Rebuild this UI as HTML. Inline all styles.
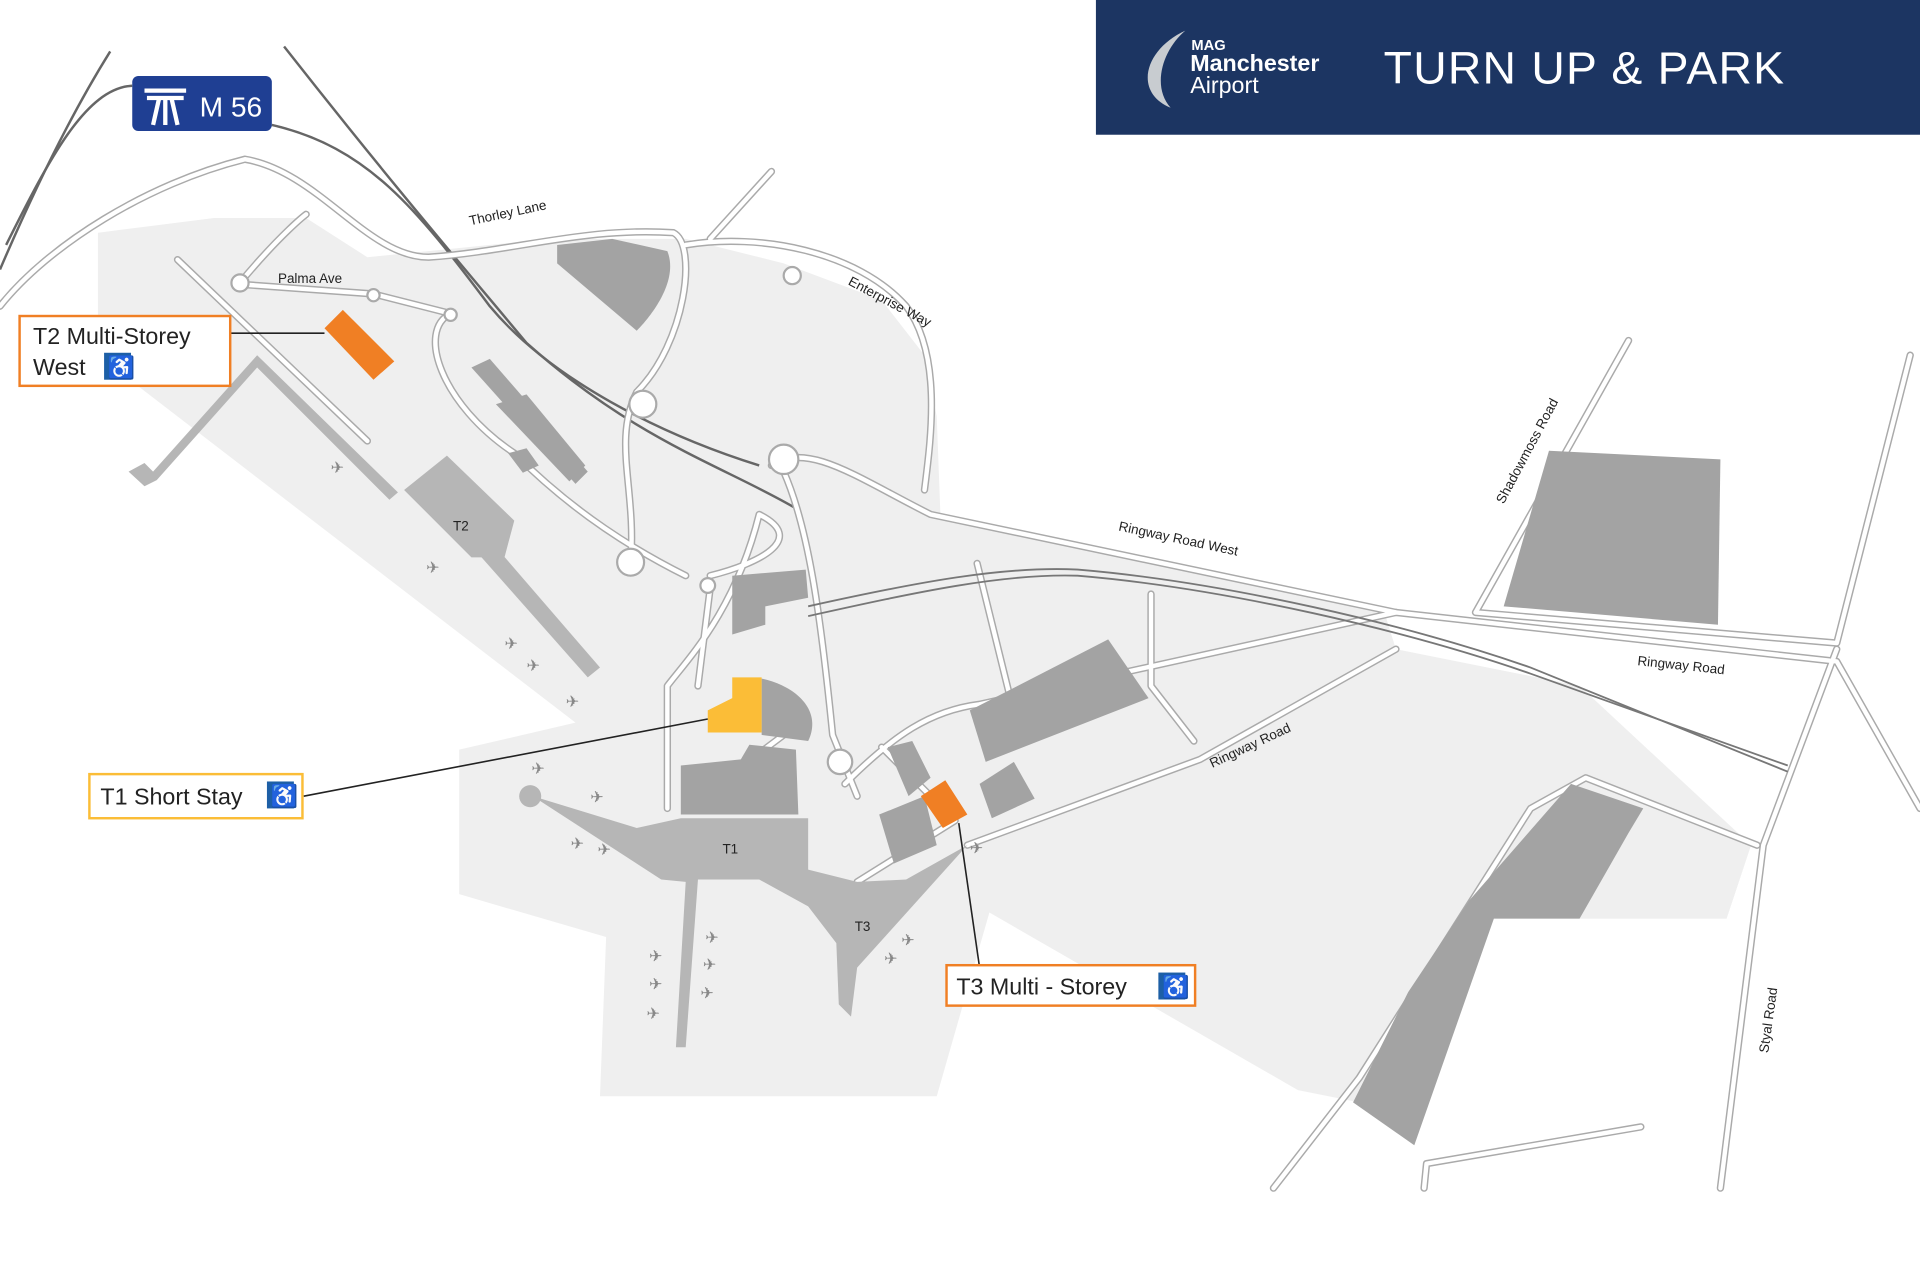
<!DOCTYPE html>
<html><head><meta charset="utf-8"><style>
html,body{margin:0;padding:0;background:#fff;}
svg{display:block}
text{font-family:"Liberation Sans",Arial,sans-serif}
</style></head><body>
<svg width="1920" height="1280" viewBox="0 0 1568 1045" preserveAspectRatio="none" xmlns="http://www.w3.org/2000/svg">
<rect width="1568" height="1045" fill="#fff"/>
<path d="M80,190 L175,178 L250,178 L300,210 L450,195 L560,195 L640,215 L720,245 L755,290 L765,340 L768,420 L1130,498 L1140,530 L1290,560 L1430,690 L1410,750 L1200,750 L1110,900 L1060,890 L808,745 L765,895 L490,895 L495,765 L375,730 L375,612 L470,590 L80,290 Z" fill="#efefef"/>
<path d="M1110,640 L1300,630 L1430,690 L1410,750 L1300,750 L1200,750 Z" fill="#efefef"/>
<g fill="none" stroke="#666" stroke-width="2">
<path d="M90,42 C60,90 30,150 0,220"/>
<path d="M232,38 C320,150 380,220 430,280 C520,360 590,380 650,415"/>
<path d="M222,102 C300,120 340,170 400,250 C450,310 540,355 620,380"/>
<path d="M108,70 C70,72 40,130 5,200"/>
</g>
<g fill="none" stroke-linecap="round" stroke-linejoin="round">
<g stroke="#aaa" stroke-width="6">
<path d="M0,250 C40,200 120,150 200,130 C260,140 300,210 350,210 C420,205 480,185 550,190 C570,200 560,280 520,320 C500,360 520,400 515,460"/>
<path d="M560,200 C620,190 700,205 740,250 C770,290 760,360 755,400"/>
<path d="M580,195 L630,140"/>
<path d="M630,380 C660,360 700,390 760,420 L1140,500 L1500,540 L1568,660"/>
<path d="M1330,278 L1205,500 L1500,525 L1560,290"/>
<path d="M1500,530 L1440,690 L1405,970"/>
<path d="M1040,970 L1110,880 L1250,660 L1295,635 L1435,690"/>
<path d="M1163,970 L1165,950 L1340,920"/>
<path d="M195,232 L305,240 L368,256 C340,270 360,330 420,370 C470,420 520,450 560,470"/>
<path d="M145,212 L300,360"/>
<path d="M195,232 C230,190 250,175 250,175"/>
<path d="M640,385 C660,430 670,500 680,600 L700,650"/>
<path d="M580,470 C620,460 660,440 620,420 C600,500 560,540 545,560 L545,660"/>
<path d="M580,480 L570,560"/>
<path d="M690,640 C730,600 760,580 800,575 L1140,500"/>
<path d="M790,690 L980,620 L1140,530"/>
<path d="M798,460 L830,590"/>
<path d="M940,485 L940,560 L975,605"/>
<path d="M720,610 L780,670 L700,720"/>
<path d="M640,600 L600,630"/>
</g>
<g stroke="#fff" stroke-width="3.6">
<path d="M0,250 C40,200 120,150 200,130 C260,140 300,210 350,210 C420,205 480,185 550,190 C570,200 560,280 520,320 C500,360 520,400 515,460"/>
<path d="M560,200 C620,190 700,205 740,250 C770,290 760,360 755,400"/>
<path d="M580,195 L630,140"/>
<path d="M630,380 C660,360 700,390 760,420 L1140,500 L1500,540 L1568,660"/>
<path d="M1330,278 L1205,500 L1500,525 L1560,290"/>
<path d="M1500,530 L1440,690 L1405,970"/>
<path d="M1040,970 L1110,880 L1250,660 L1295,635 L1435,690"/>
<path d="M1163,970 L1165,950 L1340,920"/>
<path d="M195,232 L305,240 L368,256 C340,270 360,330 420,370 C470,420 520,450 560,470"/>
<path d="M145,212 L300,360"/>
<path d="M195,232 C230,190 250,175 250,175"/>
<path d="M640,385 C660,430 670,500 680,600 L700,650"/>
<path d="M580,470 C620,460 660,440 620,420 C600,500 560,540 545,560 L545,660"/>
<path d="M580,480 L570,560"/>
<path d="M690,640 C730,600 760,580 800,575 L1140,500"/>
<path d="M790,690 L980,620 L1140,530"/>
<path d="M798,460 L830,590"/>
<path d="M940,485 L940,560 L975,605"/>
<path d="M720,610 L780,670 L700,720"/>
<path d="M640,600 L600,630"/>
</g>
</g>
<g fill="none" stroke="#777" stroke-width="1.5">
<path d="M660,495 C750,475 820,462 880,465 C1000,475 1150,510 1250,545 L1460,630"/>
<path d="M660,503 C750,483 820,468 880,470 C1000,480 1150,515 1250,550 L1460,625"/>
</g>
<g fill="#fff" stroke="#aaa" stroke-width="1.8">
<circle cx="196" cy="231" r="7"/><circle cx="305" cy="241" r="5"/><circle cx="368" cy="257" r="5"/>
<circle cx="647" cy="225" r="7"/><circle cx="515" cy="459" r="11"/><circle cx="578" cy="478" r="6"/>
<circle cx="640" cy="375" r="12"/><circle cx="525" cy="330" r="11"/><circle cx="686" cy="622" r="10"/>
</g>
<g fill="#a3a3a3">
<path d="M455,200 L500,195 L545,205 C555,230 530,260 520,270 L455,215 Z"/>
<path d="M1265,368 L1405,375 L1403,510 L1228,495 Z"/>
<path d="M1283,640 L1342,660 L1330,680 L1290,750 L1220,750 L1155,935 L1105,900 L1150,810 L1200,735 Z"/>
<path d="M792,580 L905,522 L938,570 L805,622 Z"/>
<path d="M800,640 L828,622 L845,652 L810,668 Z"/>
<path d="M385,300 L400,293 L480,385 L470,395 Z"/>
<path d="M405,330 L430,322 L478,380 L465,393 Z"/>
<path d="M415,370 L430,366 L440,380 L427,386 Z"/>
<path d="M598,470 L658,465 L660,488 L625,495 L625,510 L598,518 Z"/>
<path d="M622,554 C650,560 672,580 660,605 L622,600 Z"/>
<path d="M556,625 L605,620 L612,608 L650,612 L652,665 L556,665 Z"/>
<path d="M725,610 L745,605 L760,635 L742,650 Z"/>
<path d="M718,665 L755,650 L765,690 L730,705 Z"/>
</g>
<g fill="#b6b6b6">
<path d="M105,385 L118,378 L125,385 L210,290 L325,402 L318,408 L210,300 L128,392 L118,397 Z"/>
<path d="M330,400 L365,372 L420,425 L412,455 L385,455 Z"/>
<path d="M380,440 L395,435 L490,545 L480,553 Z"/>
<path d="M435,650 L520,676 L556,668 L660,668 L660,710 L700,720 L740,718 L790,690 L700,790 L695,830 L685,820 L683,770 L660,740 L620,718 L570,718 L560,855 L552,855 L560,720 L540,718 Z"/>
<circle cx="433" cy="650" r="9"/>
</g>
<path d="M265,268 L280,253 L322,295 L305,310 Z" fill="#f07f24"/>
<path d="M578,580 L598,570 L598,553 L622,553 L622,598 L578,598 Z" fill="#fbbd37"/>
<path d="M752,650 L772,637 L790,665 L770,676 Z" fill="#f07f24"/>
<g font-size="11" fill="#222">
<text x="227" y="231">Palma Ave</text>
<text x="384" y="184" transform="rotate(-12 384 184)">Thorley Lane</text>
<text x="692" y="232" transform="rotate(28 692 232)">Enterprise Way</text>
<text x="913" y="433" transform="rotate(12 913 433)">Ringway Road West</text>
<text x="1337" y="543" transform="rotate(6 1337 543)">Ringway Road</text>
<text x="990" y="627" transform="rotate(-25 990 627)">Ringway Road</text>
<text x="1228" y="412" transform="rotate(-62 1228 412)">Shadowmoss Road</text>
<text x="1444" y="860" transform="rotate(-82 1444 860)">Styal Road</text>
<text x="370" y="433">T2</text><text x="590" y="697">T1</text><text x="698" y="760">T3</text>
</g>
<g font-size="13" fill="#888">
<text x="270" y="386">✈</text><text x="348" y="468">✈</text><text x="412" y="530">✈</text><text x="430" y="548">✈</text><text x="462" y="577">✈</text>
<text x="434" y="632">✈</text><text x="482" y="655">✈</text><text x="466" y="693">✈</text><text x="488" y="698">✈</text>
<text x="530" y="785">✈</text><text x="530" y="808">✈</text><text x="528" y="832">✈</text><text x="576" y="770">✈</text><text x="574" y="792">✈</text><text x="572" y="815">✈</text>
<text x="736" y="772">✈</text><text x="722" y="787">✈</text><text x="792" y="697">✈</text>
</g>
<g stroke="#222" stroke-width="1.3">
<line x1="188" y1="272" x2="265" y2="272"/>
<line x1="248" y1="650" x2="578" y2="587"/>
<line x1="783" y1="672" x2="800" y2="790"/>
</g>
<rect x="16" y="258" width="172" height="57" fill="#fff" stroke="#f07f24" stroke-width="2"/>
<text x="27" y="281" font-size="19" fill="#222">T2 Multi-Storey</text>
<text x="27" y="306" font-size="19" fill="#222">West</text>
<rect x="85" y="288" width="22" height="22" fill="#1d5fa6"/><text x="88" y="306" font-size="18" fill="#fff">♿</text>
<rect x="73" y="632" width="174" height="36" fill="#fff" stroke="#fbbd37" stroke-width="2"/>
<text x="82" y="657" font-size="19" fill="#222">T1 Short Stay</text>
<rect x="218" y="638" width="22" height="22" fill="#1d5fa6"/><text x="221" y="656" font-size="18" fill="#fff">♿</text>
<rect x="773" y="788" width="203" height="33" fill="#fff" stroke="#f07f24" stroke-width="2"/>
<text x="781" y="812" font-size="19" fill="#222">T3 Multi - Storey</text>
<rect x="946" y="794" width="22" height="22" fill="#1d5fa6"/><text x="949" y="812" font-size="18" fill="#fff">♿</text>
<rect x="108" y="62" width="114" height="45" rx="5" fill="#1f3f93"/>
<path d="M118,74 L152,74 M120,80 L150,80 M130,80 L125,102 M140,80 L145,102 M135,80 L135,102" stroke="#fff" stroke-width="3.5" fill="none"/>
<text x="163" y="95" font-size="23" fill="#fff">M 56</text>
<rect x="895" y="0" width="673" height="110" fill="#1c3562"/>
<path d="M968,25 C935,40 925,75 956,88 C940,70 950,40 968,25 Z" fill="#c8ccd0"/>
<text x="973" y="41" font-size="12" font-weight="bold" fill="#fff">MAG</text>
<text x="972" y="58" font-size="19" font-weight="bold" fill="#fff">Manchester</text>
<text x="972" y="76" font-size="19" fill="#fff">Airport</text>
<text x="1130" y="68" font-size="37" fill="#fff" letter-spacing="1" textLength="328" lengthAdjust="spacingAndGlyphs">TURN UP &amp; PARK</text>
</svg>
</body></html>
